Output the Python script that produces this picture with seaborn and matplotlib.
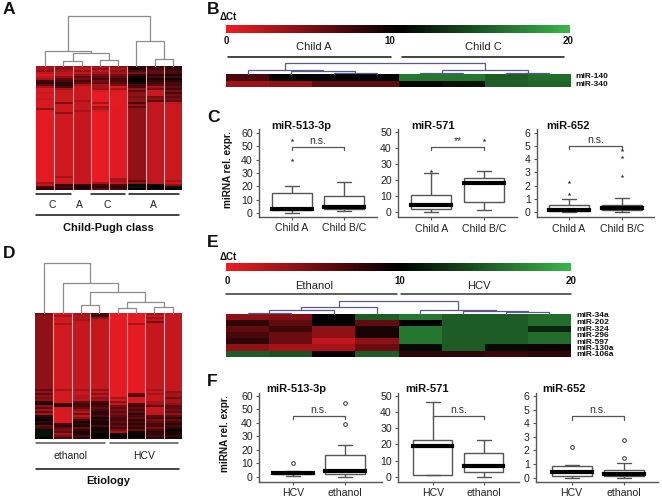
import matplotlib
matplotlib.use('Agg')
import matplotlib.pyplot as plt
from matplotlib.colors import LinearSegmentedColormap
from matplotlib.lines import Line2D
import numpy as np
import pandas as pd
import seaborn as sns

# Panel A heat map, one list per sample (delta Ct, 62 miRNA rows)
a_col1 = [3,3,4,2,1,2,3,7,8,6,3,1,1,1.5,1,1,1.5,1,1,1,1,4] + [.5]*36 + [3,2,7,8]
a_col2 = [4,4,3,2,2,4,6,7,8,8,7,3,1.5,1.5,1.5,1.5,1.5,1.5,5,1.5,1.5,1.5,1.5,4] + [1.3]*31 + [3,1.3,1.3,1.5,8,7,8]
a_col3 = [3,2,4,2,4,6,5,7,6,3] + [1.5]*7 + [3] + [1.7]*4 + [3] + [1.7]*35 + [1.7,8,9,8]
a_col4 = [3,4,2,3,5,6,7,5,6,3,3,3.5,1,.3,.3,.3,.3,.4,3,.3,3,2.5,1] + [.3]*35 + [3,7,8,6]
a_col5 = [4,3,4,3,5,6,7,7,6,5,1,3,1,.5,.5,.5,.5,.5,.5,.5] + [.6]*35 + [.6,3,3,2,7,8,7]
a_col6 = [8,9,7,5,8,9,10,10,9,7,7,4,6,4,4,5,4,4,7,4,6,4] + [3.9]*34 + [4,6,4,10.5,11,10]
a_col7 = [8,7,6,6,8,7,9,8,7,6,3,5,1.5,1.5,1.5,5,4,6,1.8,1.8] + [1.8]*36 + [1.8,1.8,1.8,10,10,9]
a_col8 = [8,8,7,7,9,7,10,8,7,7,6,7,5,7,5,6,5,6,2,1.5,1.5] + [1.5]*35 + [1.5,3,1.5,4,11,10]

# Panel D heat map (63 rows)
d_col1 = [5] + [4]*37 + [6,4,6,4,5,4,8,9,4,6,3,6,3,8,9,10,8,9,6,7,11,11,11,11,10]
d_col2 = [1.2,3,1.2,1.2,1.2,3] + [1.2]*32 + [3,1.2,1.2,1.2,1.2,1.2,1.2,7,9,1.2,1,1,1,1,1,1,1,7,8,6,5,6,3,5,7]
d_col3 = [3,2.5,2.5,3,2] + [1.7]*33 + [3,1.7,1.7,2.5,2.5,2,6,7,7,6,4,2.5,5,2,4,7,9,8,9,6,8,9,9,7,8]
d_col4 = [7,8,4,2] + [1.7]*34 + [4,2,4,2,4,3,7,8,7,6,7,8,8,7,9,8,9,9,7,9,9,11,10,10,9]
d_col5 = [.4]*42 + [3,1,4,2,5,6,5,6,5,6,7,7,6,7,6,7,5,3,9,10,9]
d_col6 = [.4]*5 + [3] + [.4]*34 + [6,7,1.2,1,1,7,7,6,7,6,8,7,6,8,7,8,7,8,6,9,10,10,9]
d_col7 = [3,1.5,3,2,5,1.7] + [1.7]*32 + [3,1.7,3,1.7,1.7,1.7,3,3,6,1.7,1.7,2,2,6,7,5,6,7,7,5,7,8,8,7,8]
d_col8 = [1.7]*39 + [4,3,3,5,3,3,4,6,6,5,6,4,6,8,6,7,8,7,8,10,9,9,8,9]

# Panels B and E
mirna_b = ['miR-140', 'miR-340']
b_140 = [7, 10, 10, 10, 16.5, 16.5, 15, 16]
b_340 = [3.5, 3.8, 6, 6, 10.3, 11, 15, 15.5]

mirna_e = ['miR-34a', 'miR-202', 'miR-324', 'miR-296', 'miR-597', 'miR-130a', 'miR-106a']
e_34a = [4, 4.5, 10, 15, 16.5, 15, 15, 16]
e_202 = [8, 6, 10, 6, 10, 15, 15, 16]
e_324 = [6, 7.5, 4, 9, 16.5, 15, 15, 12]
e_296 = [7, 5.5, 4, 9, 16.5, 15, 15, 16]
e_597 = [8, 5.5, 2, 4, 16.5, 15, 15, 16]
e_130a = [4, 3, 3, 5.5, 10.5, 15, 10.5, 9.5]
e_106a = [15, 14.5, 10, 15, 8, 8, 7.5, 8]

# dendrograms: (merge height, left, right), ints are leaves
tree_a = (50, (15, 0, (13, (5, 1, 2), (6, 3, 4))), (25, 5, (7, 6, 7)))
tree_d = (50, 0, (30, 1, (20.7, (7.7, 2, 3), (11, (4.7, 4, 5), (6, 6, 7)))))
tree_b = (11, (4.3, 0, (2.7, 1, (1.3, 2, 3))), (3.7, (1.3, 4, 5), (1.3, 6, 7)))
tree_e = (12.7, (6.7, (4, (1, 0, 1), 2), 3), (4, 4, (2.3, 5, (1.5, 6, 7))))

# box plots: lowest, q1, median, q3, highest
child_groups = ['Child A', 'Child B/C']
etiol_groups = ['HCV', 'ethanol']

c513_a = [0, 2, 3, 15, 20]
c513_bc = [1, 3, 4, 13, 23.5]
c513_out = [[40, 55], []]
c571_a = [0, 1.5, 4.5, 10.5, 24]
c571_bc = [1, 6, 18, 21, 25.5]
c571_out = [[25.5], [45]]
c652_a = [0, .1, .15, .55, 1.0]
c652_bc = [0, .15, .35, .55, 1.1]
c652_out = [[1.4, 2.25], [2.75, 4.2, 4.7]]

f513_hcv = [1, 2.5, 3, 4, 4.5]
f513_eth = [0, 2, 4.5, 16, 23.5]
f513_out = [[10], [39.5, 54.5]]
f571_hcv = [1, 1.5, 19, 22.5, 46]
f571_eth = [0, 3, 7, 14.5, 22.5]
f571_out = [[], []]
f652_hcv = [0, .1, .4, .85, .9]
f652_eth = [0, .1, .3, .55, 1.1]
f652_out = [[2.25], [1.45, 2.75]]

W, H = 662, 499
sns.set_theme(style='white')
plt.rcParams['font.family'] = ['Liberation Sans', 'DejaVu Sans']

ct_cmap = LinearSegmentedColormap.from_list('ct', ['#ed1c24', '#000000', '#39b54a'])
tree_grey = '#8c8c8c'
tree_blue = '#5a5a8c'
axis_col = '#555555'

fig = plt.figure(figsize=(W / 100, H / 100), dpi=100)


def px_axes(x0, y0, x1, y1):
    # rectangle given in image pixels, y going down
    return fig.add_axes([x0 / W, 1 - y1 / H, (x1 - x0) / W, (y1 - y0) / H])


def label(x, y, s, size=8, bold=False, ha='center', color='#222222', rot=0):
    fig.text(x / W, 1 - y / H, s, fontsize=size, fontweight='bold' if bold else 'normal',
             ha=ha, va='center', color=color, rotation=rot)


def rule(x0, x1, y, color='#111111', lw=1.1):
    fig.add_artist(Line2D([x0 / W, x1 / W], [1 - y / H, 1 - y / H], color=color, lw=lw))


def draw_tree(ax, node, color, lw):
    # returns x position and height of the node
    if not isinstance(node, tuple):
        return node + .5, 0
    h, left, right = node
    xl, hl = draw_tree(ax, left, color, lw)
    xr, hr = draw_tree(ax, right, color, lw)
    ax.plot([xl, xl, xr, xr], [hl, h, h, hr], color=color, lw=lw, clip_on=False,
            solid_joinstyle='miter')
    return (xl + xr) / 2, h


def heat_panel(rect, columns, tree, tree_h, color, sep=None):
    x0, y0, x1, y1 = rect
    ax = px_axes(x0, y0, x1, y1)
    mat = pd.DataFrame(np.array(columns).T)
    sns.heatmap(mat, ax=ax, cmap=ct_cmap, vmin=0, vmax=20, cbar=False,
                xticklabels=False, yticklabels=False)
    if sep:
        ax.vlines(np.arange(1, len(columns)), 0, len(columns[0]), color=sep, lw=.8)
    tx = px_axes(x0, y0 - tree_h, x1, y0)
    tx.set_xlim(0, len(columns))
    tx.set_ylim(0, tree_h)
    tx.axis('off')
    draw_tree(tx, tree, color, .9)


def colour_bar(x0, y0, x1, y1):
    ax = px_axes(x0, y0, x1, y1)
    sns.heatmap(np.linspace(0, 20, 256)[None, :], ax=ax, cmap=ct_cmap, vmin=0, vmax=20,
                cbar=False, xticklabels=False, yticklabels=False)


def box_panel(rect, xlim, ylim, yticks, groups, low, high, outliers, title, title_x, title_y,
              bracket, note, star='*'):
    ax = px_axes(*rect)
    df = pd.DataFrame({'group': [groups[0]] * 5 + [groups[1]] * 5, 'value': low + high})
    sns.boxplot(data=df, x='group', y='value', order=groups, ax=ax, whis=(0, 100), width=.76,
                color='white', linecolor=axis_col, linewidth=1, fliersize=0, capwidths=.27,
                medianprops={'color': 'black', 'linewidth': 3.0, 'solid_capstyle': 'projecting'})
    out = pd.DataFrame({'group': [groups[i] for i in (0, 1) for _ in outliers[i]],
                        'value': outliers[0] + outliers[1]})
    if star == '*':
        sns.stripplot(data=out, x='group', y='value', order=groups, ax=ax, jitter=False,
                      color='#333333', marker='*', size=3)
    else:
        sns.stripplot(data=out, x='group', y='value', order=groups, ax=ax, jitter=False,
                      color='white', edgecolor='#333333', linewidth=.7, size=2.6)
    ax.set_xlim(*xlim)
    ax.set_ylim(*ylim)
    ax.set_yticks(yticks)
    ax.set_xlabel('')
    ax.set_ylabel('')
    sns.despine(ax=ax)
    for side in ('left', 'bottom'):
        ax.spines[side].set_color(axis_col)
        ax.spines[side].set_linewidth(1)
    ax.tick_params(axis='both', labelsize=7.6, length=2.5, width=.8, color=axis_col,
                   labelcolor='#222222', pad=2, left=True, bottom=True)
    ax.tick_params(axis='x', pad=2)
    # significance bracket
    tip = (ylim[1] - ylim[0]) * .036
    ax.plot([0, 0, 1, 1], [bracket - tip, bracket, bracket, bracket - tip], color=axis_col, lw=.9)
    ax.text(.5, bracket + tip * .3, note, ha='center', va='bottom', fontsize=7.6, color='#333333')
    label(title_x, title_y, title, size=8, bold=True, ha='left', color='#111111')


# --- panel letters
for letter, lx, ly in [('A', 3, 10), ('B', 207, 9), ('C', 207, 118),
                       ('D', 3, 254), ('E', 207, 243), ('F', 207, 381)]:
    label(lx, ly, letter, size=12.5, bold=True, ha='left', color='#111111')

# --- A
heat_panel((36, 66, 182, 190), [a_col1, a_col2, a_col3, a_col4, a_col5, a_col6, a_col7, a_col8],
           tree_a, 50, tree_grey, sep='#d8a8a8')
rule(36, 71, 194)
rule(90.7, 125, 194)
rule(128.7, 179, 194)
rule(36, 179, 215)
for s, lx in [('C', 52), ('A', 79), ('C', 107), ('A', 153)]:
    label(lx, 205, s, size=7.5)
label(108.7, 228, 'Child-Pugh class', size=8, bold=True, color='#111111')

# --- D
heat_panel((35, 313, 182, 439), [d_col1, d_col2, d_col3, d_col4, d_col5, d_col6, d_col7, d_col8],
           tree_d, 50, tree_grey, sep='#d8a8a8')
rule(36, 105, 443.3, color='#555555')
rule(110, 178, 443.3, color='#555555')
rule(36, 178.7, 469)
label(70.7, 456, 'ethanol', size=7.5)
label(144, 456, 'HCV', size=7.5)
label(108, 480.7, 'Etiology', size=8, bold=True, color='#111111')

# --- B
colour_bar(226, 25, 570, 33)
label(220, 16.7, '\u0394Ct', size=7, bold=True, ha='left', color='#111111')
for s, lx in [('0', 226.7), ('10', 390), ('20', 568)]:
    label(lx, 40.7, s, size=7, bold=True, color='#111111')
label(313.7, 46.7, 'Child A', size=8)
label(483, 46.7, 'Child C', size=8)
rule(228, 390.7, 56.7)
rule(401.7, 564, 56.7)
heat_panel((226, 74, 571, 87), [list(c) for c in zip(b_140, b_340)], tree_b, 11, tree_blue)
for s, ly in zip(mirna_b, [76, 84.3]):
    label(575, ly, s, size=6, bold=True, ha='left', color='#111111')

# --- E
colour_bar(226, 263, 571, 271)
label(220, 256.7, '\u0394Ct', size=7, bold=True, ha='left', color='#111111')
for s, lx in [('0', 227.7), ('10', 400), ('20', 571)]:
    label(lx, 280.7, s, size=7, bold=True, color='#111111')
label(314, 285.7, 'Ethanol', size=8)
label(479, 285.7, 'HCV', size=8)
rule(226, 396.7, 294.3, color='#333333')
rule(401, 571, 294.3, color='#333333')
heat_panel((226, 313.5, 571, 356.7),
           [list(c) for c in zip(e_34a, e_202, e_324, e_296, e_597, e_130a, e_106a)],
           tree_e, 13, tree_blue)
for s, ly in zip(mirna_e, [315.7, 322.7, 329.3, 335.7, 342, 348.3, 354.7]):
    label(576, ly, s, size=6, bold=True, ha='left', color='#111111')

# --- C
t60 = [0, 10, 20, 30, 40, 50, 60]
t50 = [0, 10, 20, 30, 40, 50]
t6 = [0, 1, 2, 3, 4, 5, 6]
box_panel((259, 129, 377, 217), (-.62, 1.62), (-3.2, 63.2), t60, child_groups, c513_a, c513_bc,
          c513_out, 'miR-513-3p', 271, 126, 49.7, 'n.s.')
box_panel((398, 129, 517, 217.3), (-.63, 1.63), (-3.5, 51.7), t50, child_groups, c571_a, c571_bc,
          c571_out, 'miR-571', 411.7, 126, 40.6, '**')
box_panel((537, 129, 654, 217.3), (-.6, 1.6), (-.38, 6.28), t6, child_groups, c652_a, c652_bc,
          c652_out, 'miR-652', 546.7, 126, 5.0, 'n.s.')
label(228, 170, 'miRNA rel. expr.', size=7.2, bold=True, rot=90, color='#111111')

# --- F
box_panel((259, 392.7, 382, 482), (-.65, 1.71), (-3.7, 62.4), t60, etiol_groups, f513_hcv, f513_eth,
          f513_out, 'miR-513-3p', 266.7, 388.7, 45, 'n.s.', star='o')
box_panel((398, 392.7, 519, 482), (-.68, 1.69), (-3.07, 51.8), t50, etiol_groups, f571_hcv, f571_eth,
          f571_out, 'miR-571', 405, 388.7, 37.7, 'n.s.', star='o')
box_panel((536, 392.7, 658, 482), (-.68, 1.65), (-.32, 6.24), t6, etiol_groups, f652_hcv, f652_eth,
          f652_out, 'miR-652', 542, 388.7, 4.5, 'n.s.', star='o')
label(225, 434, 'miRNA rel. expr.', size=7.2, bold=True, rot=90, color='#111111')

fig.savefig('out.png', dpi=100)
